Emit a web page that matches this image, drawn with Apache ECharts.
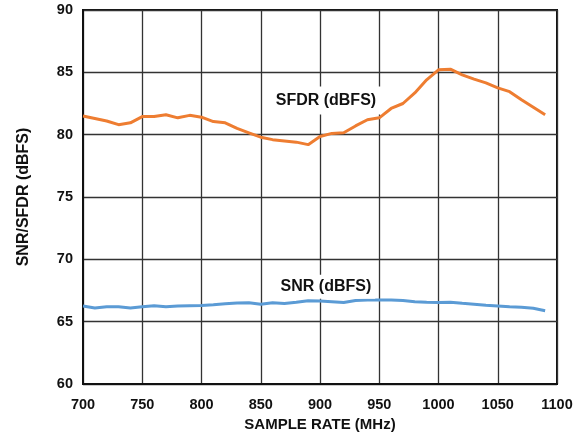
<!DOCTYPE html>
<html>
<head>
<meta charset="utf-8">
<script src="https://cdn.jsdelivr.net/npm/echarts@6/dist/echarts.min.js"></script>
<style>html,body{margin:0;padding:0;background:#fff}#c{width:583px;height:444px}</style>
</head>
<body>
<div id="c"></div>
<script>
const sampleRate = [700,710,720,730,740,750,760,770,780,790,800,810,820,830,840,850,860,870,880,890,900,910,920,930,940,950,960,970,980,990,1000,1010,1020,1030,1040,1050,1060,1070,1080,1090];
const sfdr = [81.5,81.3,81.1,80.8,80.95,81.45,81.45,81.6,81.35,81.55,81.4,81.05,80.95,80.5,80.15,79.8,79.6,79.5,79.4,79.2,79.85,80.1,80.15,80.7,81.2,81.35,82.1,82.5,83.35,84.4,85.2,85.25,84.8,84.45,84.15,83.75,83.45,82.8,82.2,81.6];
const snr = [66.25,66.1,66.2,66.2,66.1,66.2,66.28,66.2,66.25,66.28,66.3,66.36,66.43,66.5,66.52,66.4,66.52,66.45,66.55,66.68,66.65,66.6,66.53,66.7,66.74,66.74,66.74,66.7,66.6,66.56,66.53,66.56,66.47,66.4,66.32,66.26,66.2,66.15,66.07,65.87];
const sfdrLabel = {text: 'SFDR (dBFS)', x: 905, y: 82.75};
const snrLabel = {text: 'SNR (dBFS)', x: 905, y: 67.8};

const font = '"Liberation Sans", Arial, sans-serif';
const chart = echarts.init(document.getElementById('c'));
function pairs(xs, ys){ return xs.map((x,i)=>[x, ys[i]]); }
function lbl(o, pad){
  return {
    symbol: 'rect', symbolSize: 1, itemStyle:{color:'rgba(0,0,0,0)'},
    label: {show:true, position:'inside', formatter: o.text, color:'#111', fontFamily: font, fontWeight:'bold', fontSize:16,
      backgroundColor:'#fff', padding:pad},
    data: [{coord:[o.x, o.y]}]
  };
}
chart.setOption({
  animation: false,
  grid: {left: 83, right: 26, top: 10, bottom: 60, containLabel: false, show: true, borderColor:'#111', borderWidth: 2, backgroundColor:'transparent'},
  xAxis: {
    type: 'value', min: 700, max: 1100, interval: 50,
    name: 'SAMPLE RATE (MHz)', nameLocation: 'middle', nameGap: 32,
    nameTextStyle: {fontFamily: font, fontWeight:'bold', fontSize:15, color:'#111'},
    axisLine: {show:true, onZero:false, lineStyle:{color:'#111', width:2}},
    axisTick: {show:false},
    axisLabel: {fontFamily: font, fontWeight:'bold', fontSize:14.5, color:'#111', margin:13, formatter: v => String(v)},
    splitLine: {show:true, lineStyle:{color:'#333', width:1.3}}
  },
  yAxis: {
    type: 'value', min: 60, max: 90, interval: 5,
    name: 'SNR/SFDR (dBFS)', nameLocation: 'middle', nameGap: 51,
    nameTextStyle: {fontFamily: font, fontWeight:'bold', fontSize:16, color:'#111'},
    axisLine: {show:true, lineStyle:{color:'#111', width:2}},
    axisTick: {show:false},
    axisLabel: {fontFamily: font, fontWeight:'bold', fontSize:14.5, color:'#111', margin:10, formatter: v => String(v)},
    splitLine: {show:true, lineStyle:{color:'#333', width:1.3}}
  },
  series: [
    {type:'line', data: pairs(sampleRate, sfdr), showSymbol:false, smooth:false,
     lineStyle:{color:'#EE7D31', width:3}, itemStyle:{color:'#EE7D31'}, markPoint: lbl(sfdrLabel, [6,5]), z:3},
    {type:'line', data: pairs(sampleRate, snr), showSymbol:false, smooth:false,
     lineStyle:{color:'#5B9BD5', width:3}, itemStyle:{color:'#5B9BD5'}, markPoint: lbl(snrLabel, [4,4]), z:3}
  ]
});
</script>
</body>
</html>
